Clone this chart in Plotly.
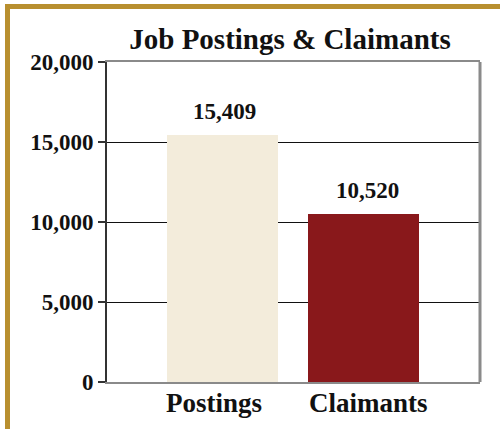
import plotly.graph_objects as go

categories = ["Postings", "Claimants"]
values = [15409, 10520]
value_labels = ["15,409", "10,520"]
bar_colors = ["#F3ECDB", "#89181B"]
y_tickvals = [0, 5000, 10000, 15000, 20000]
y_ticktext = ["0", "5,000", "10,000", "15,000", "20,000"]
title_text = "Job Postings & Claimants"

W, H = 500, 429
ML, MR, MT, MB = 107, 20, 62, 47
PW = W - ML - MR
PH = H - MT - MB

def px_x(px):
    return (px - ML) / PW

def px_y(py):
    return (H - MB - py) / PH

SERIF = "Liberation Serif, Times New Roman, Times, serif"
GOLD = "#B88F2F"
FRAME = "#8a8a8a"

fig = go.Figure()
fig.add_trace(go.Bar(
    x=categories, y=values, marker=dict(color=bar_colors, line=dict(width=0)),
    width=0.787, hoverinfo="skip", showlegend=False,
))

annotations = []
for c, v, t, dx in zip(categories, values, value_labels, [2, 4]):
    annotations.append(dict(
        x=c, y=v, xref="x", yref="y", text="<b>" + t + "</b>", showarrow=False,
        yanchor="bottom", xanchor="center", yshift=9, xshift=dx,
        font=dict(family=SERIF, size=23, color="#111111"),
    ))
# category labels (x axis labels) placed under the bars
for c, dx in zip(categories, [-9, 5]):
    annotations.append(dict(
        x=c, y=0, xref="x", yref="paper", text="<b>" + c + "</b>", showarrow=False,
        yanchor="top", xanchor="center", yshift=-4, xshift=dx,
        font=dict(family=SERIF, size=27, color="#111111"),
    ))

shapes = [
    dict(type="rect", xref="paper", yref="paper",
         x0=px_x(5), x1=px_x(10), y0=px_y(440), y1=px_y(4),
         fillcolor=GOLD, line=dict(width=0), layer="above"),
    dict(type="rect", xref="paper", yref="paper",
         x0=px_x(5), x1=px_x(510), y0=px_y(9), y1=px_y(4),
         fillcolor=GOLD, line=dict(width=0), layer="above"),
    dict(type="line", xref="paper", yref="paper",
         x0=1, x1=1, y0=0, y1=1, line=dict(color=FRAME, width=3), layer="above"),
]

fig.update_layout(
    template="none",
    width=W, height=H,
    margin=dict(l=ML, r=MR, t=MT, b=MB, autoexpand=False),
    paper_bgcolor="white", plot_bgcolor="white",
    title=dict(text="<b>" + title_text + "</b>", x=290 / W, xanchor="center",
               y=1 - 38.5 / H, yanchor="middle", yref="container",
               font=dict(family=SERIF, size=29, color="#111111")),
    xaxis=dict(
        type="category", range=[-0.819, 1.826], automargin=False,
        showline=True, mirror=True, linecolor=FRAME, linewidth=2,
        ticks="", showticklabels=False,
        showgrid=False, zeroline=False, fixedrange=True,
    ),
    yaxis=dict(
        range=[0, 20000], tickvals=y_tickvals,
        ticktext=["<b>" + t + "</b>" for t in y_ticktext], automargin=False,
        showline=True, linecolor="#333333", linewidth=2,
        ticks="outside", ticklen=7, tickcolor="#333333", tickwidth=1.5,
        tickfont=dict(family=SERIF, size=23, color="#111111"),
        showgrid=True, gridcolor="#111111", gridwidth=1,
        zeroline=False, fixedrange=True,
    ),
    annotations=annotations,
    shapes=shapes,
    bargap=0,
)

fig.write_html(
    "out.html",
    config={"displayModeBar": False},
    post_script="document.body.style.margin='0';document.body.style.overflow='hidden';",
)
